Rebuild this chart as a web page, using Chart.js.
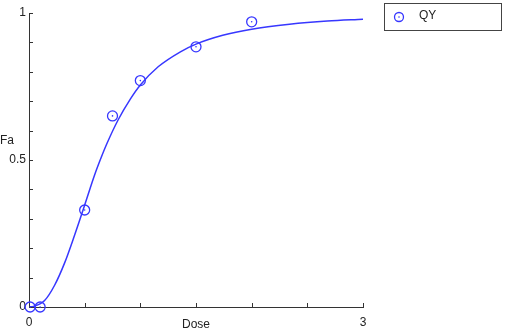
<!DOCTYPE html>
<html>
<head>
<meta charset="utf-8">
<script src="https://cdn.jsdelivr.net/npm/chart.js@4/dist/chart.umd.min.js"></script>
<style>
  html, body { margin: 0; padding: 0; background: #fff; }
  #wrap { width: 505px; height: 332px; }
</style>
</head>
<body>
<div id="wrap"><canvas id="myChart" width="505" height="332"></canvas></div>
<script>
// measured points (QY)
var doseValues = [0.01, 0.1, 0.5, 0.75, 1.0, 1.5, 2.0];
var faValues = [0, 0, 0.33, 0.65, 0.77, 0.885, 0.97];

// fitted curve
var curveDose = [0, 0.04, 0.14, 0.23, 0.32, 0.41, 0.49, 0.55, 0.59, 0.65, 0.70, 0.80, 0.91, 1.0, 1.16, 1.36, 1.5, 1.74, 2.0, 2.34, 2.68, 3.0];
var curveFa = [0, 0.002, 0.022, 0.074, 0.15, 0.245, 0.335, 0.405, 0.45, 0.51, 0.556, 0.636, 0.707, 0.755, 0.817, 0.868, 0.894, 0.924, 0.945, 0.962, 0.973, 0.979];

var xTickLabels = [0, 3];
var yTickLabels = [0, 0.5, 1];
var seriesName = 'QY';
var xTitle = 'Dose';
var yTitle = 'Fa';

var blue = 'rgb(55,55,255)';
var axisColor = '#333';
var font = '12px "Liberation Sans", Arial, sans-serif';

var pts = doseValues.map(function(d, i) { return {x: d, y: faValues[i]}; });
var curve = curveDose.map(function(d, i) { return {x: d, y: curveFa[i]}; });

// inward tick marks, centre dots, axis titles and the boxed legend
var extras = {
    id: 'extras',
    afterDraw: function(chart) {
        var ctx = chart.ctx;
        var xs = chart.scales.x, ys = chart.scales.y;
        var area = chart.chartArea;
        ctx.save();
        ctx.strokeStyle = axisColor;
        ctx.lineWidth = 1;
        ctx.beginPath();
        xs.ticks.forEach(function(t) {
            var px = Math.round(xs.getPixelForValue(t.value)) + 0.5;
            ctx.moveTo(px, area.bottom);
            ctx.lineTo(px, area.bottom - 4);
        });
        ys.ticks.forEach(function(t) {
            var py = Math.round(ys.getPixelForValue(t.value)) + 0.5;
            ctx.moveTo(area.left, py);
            ctx.lineTo(area.left + 4, py);
        });
        ctx.stroke();

        // small dot in the middle of each circle
        ctx.fillStyle = blue;
        chart.getDatasetMeta(1).data.forEach(function(el) {
            ctx.beginPath();
            ctx.arc(el.x, el.y, 0.8, 0, Math.PI * 2);
            ctx.fill();
        });

        ctx.fillStyle = '#222';
        ctx.font = font;
        ctx.textAlign = 'center';
        ctx.textBaseline = 'middle';
        ctx.fillText(xTitle, 196, 325);
        ctx.fillText(yTitle, 7, 141);

        // legend
        ctx.strokeStyle = '#444';
        ctx.strokeRect(384.5, 3.5, 117, 27);
        ctx.strokeStyle = blue;
        ctx.lineWidth = 1.3;
        ctx.beginPath();
        ctx.arc(399, 17, 4.5, 0, Math.PI * 2);
        ctx.stroke();
        ctx.fillStyle = blue;
        ctx.beginPath();
        ctx.arc(399, 17, 0.8, 0, Math.PI * 2);
        ctx.fill();
        ctx.fillStyle = '#222';
        ctx.textAlign = 'left';
        ctx.fillText(seriesName, 419, 16);
        ctx.restore();
    }
};

var ctx = document.getElementById('myChart').getContext('2d');
var myChart = new Chart(ctx, {
    type: 'scatter',
    data: {
        datasets: [{
            label: 'fit',
            data: curve,
            showLine: true,
            borderColor: blue,
            borderWidth: 1.5,
            pointRadius: 0,
            cubicInterpolationMode: 'monotone',
            fill: false
        }, {
            label: seriesName,
            data: pts,
            showLine: false,
            pointStyle: 'circle',
            pointRadius: 5,
            borderColor: blue,
            borderWidth: 1.3,
            backgroundColor: 'rgba(0,0,0,0)',
            clip: false
        }]
    },
    options: {
        responsive: false,
        animation: false,
        events: [],
        layout: { padding: { left: 0, top: 13, right: 142, bottom: 0 } },
        plugins: { legend: { display: false }, tooltip: { enabled: false } },
        scales: {
            x: {
                type: 'linear',
                min: 0,
                max: 3,
                afterFit: function(scale) { scale.height = 25; },
                grid: { display: true, drawOnChartArea: false, drawTicks: false },
                border: { display: true, color: axisColor, width: 1 },
                ticks: {
                    stepSize: 0.5,
                    padding: 8,
                    color: '#222',
                    font: { family: '"Liberation Sans", Arial, sans-serif', size: 12 },
                    maxRotation: 0,
                    autoSkip: false,
                    callback: function(v) { return xTickLabels.indexOf(v) >= 0 ? String(v) : ''; }
                }
            },
            y: {
                type: 'linear',
                min: 0,
                max: 1,
                afterFit: function(scale) { scale.width = 29; },
                grid: { display: true, drawOnChartArea: false, drawTicks: false },
                border: { display: true, color: axisColor, width: 1 },
                ticks: {
                    stepSize: 0.1,
                    padding: 3,
                    color: '#222',
                    font: { family: '"Liberation Sans", Arial, sans-serif', size: 12 },
                    autoSkip: false,
                    callback: function(v) {
                        var r = Math.round(v * 10) / 10;
                        return yTickLabels.indexOf(r) >= 0 ? String(r) : '';
                    }
                }
            }
        }
    },
    plugins: [extras]
});
</script>
</body>
</html>
